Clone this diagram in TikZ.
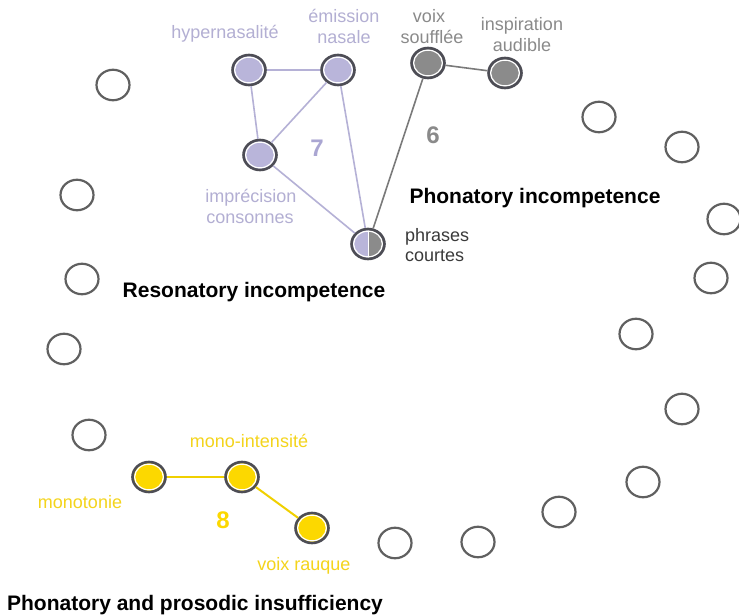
\documentclass[tikz,border=0pt]{standalone}
\usepackage{fontspec}
\setmainfont{Liberation Sans}
\usetikzlibrary{shapes.geometric}

\definecolor{ringc}{HTML}{4D4D55}
\definecolor{emptyc}{HTML}{606060}
\definecolor{lavfill}{HTML}{B9B5DA}
\definecolor{lavtext}{HTML}{B3AFD3}
\definecolor{lavline}{HTML}{B5B1D6}
\definecolor{lavnum}{HTML}{AAA6D2}
\definecolor{greyfill}{HTML}{8B8B8B}
\definecolor{greytext}{HTML}{8A8A8A}
\definecolor{greyline}{HTML}{7A7A7A}
\definecolor{yelfill}{HTML}{FCD800}
\definecolor{yeltext}{HTML}{F4D41C}
\definecolor{yelline}{HTML}{F0D000}
\definecolor{darktext}{HTML}{3A3A3A}

\tikzset{
  symptom/.style={ellipse, minimum width=33pt, minimum height=30pt, inner sep=0pt,
    fill=#1, draw=ringc, line width=2.6pt,
    path picture={\draw[white, line width=1.3pt] (path picture bounding box.center)
      ellipse [x radius=14.4pt, y radius=12.9pt];}},
  splitnode/.style={ellipse, minimum width=33pt, minimum height=30pt, inner sep=0pt,
    draw=ringc, line width=2.6pt,
    path picture={
      \fill[lavfill] (path picture bounding box.south west) rectangle (path picture bounding box.north);
      \fill[greyfill] (path picture bounding box.south) rectangle (path picture bounding box.north east);
      \draw[white, line width=0.8pt] (path picture bounding box.south) -- (path picture bounding box.north);
      \draw[white, line width=1.3pt] (path picture bounding box.center)
        ellipse [x radius=14.4pt, y radius=12.9pt];}},
  emptynode/.style={ellipse, minimum width=33pt, minimum height=30.5pt, inner sep=0pt,
    draw=emptyc, line width=2.2pt},
  lbl/.style={anchor=base, inner sep=0pt, font=\fontsize{18}{21}\selectfont},
  lblleft/.style={anchor=base west, inner sep=0pt, font=\fontsize{18}{21}\selectfont},
  groupnum/.style={anchor=base, inner sep=0pt, font=\fontsize{24}{28}\selectfont\bfseries},
  grouptitle/.style={anchor=base, inner sep=0pt, font=\fontsize{21}{25}\selectfont\bfseries, text=black},
  lavedge/.style={draw=lavline, line width=1.6pt},
  greyedge/.style={draw=greyline, line width=1.6pt},
  yeledge/.style={draw=yelline, line width=2pt}
}

\begin{document}
\begin{tikzpicture}[x=1pt, y=-1pt]
\useasboundingbox[fill=white] (0,0) rectangle (739,615);

% resonatory group
\node[symptom=lavfill] (hyp) at (249,70) {};
\node[symptom=lavfill] (emi) at (338,70) {};
\node[symptom=lavfill] (imp) at (260,155) {};
% shared node
\node[splitnode] (pc) at (368,244) {};
% phonatory group
\node[symptom=greyfill] (vs) at (428,63) {};
\node[symptom=greyfill] (ia) at (505,73) {};
% prosodic group
\node[symptom=yelfill] (mt) at (149,477) {};
\node[symptom=yelfill] (mi) at (242,477) {};
\node[symptom=yelfill] (vr) at (312,528) {};

% connectors
\draw[lavedge] (hyp) -- (emi);
\draw[lavedge] (hyp) -- (imp);
\draw[lavedge] (emi) -- (imp);
\draw[lavedge] (emi) -- (pc);
\draw[lavedge] (imp) -- (pc);
\draw[greyedge] (vs) -- (ia);
\draw[greyedge] (vs) -- (pc);
\draw[yeledge] (mt) -- (mi);
\draw[yeledge] (mi) -- (vr);

% empty positions around the ring
\node[emptynode] (e1) at (113,85) {};
\node[emptynode] (e2) at (77,195) {};
\node[emptynode] (e3) at (82,279) {};
\node[emptynode] (e4) at (64,349) {};
\node[emptynode] (e5) at (89,435) {};
\node[emptynode] (e6) at (599,117) {};
\node[emptynode] (e7) at (682,147) {};
\node[emptynode] (e8) at (724,219) {};
\node[emptynode] (e9) at (711,278) {};
\node[emptynode] (e10) at (636,334) {};
\node[emptynode] (e11) at (682,409) {};
\node[emptynode] (e12) at (643,482) {};
\node[emptynode] (e13) at (559,512) {};
\node[emptynode] (e14) at (478,542) {};
\node[emptynode] (e15) at (395,543) {};

% symptom labels
\node[lbl, text=lavtext] (lhyp) at (225,39) {hypernasalité};
\node[lbl, text=lavtext] (lemi1) at (344,23) {émission};
\node[lbl, text=lavtext] (lemi2) at (344,44) {nasale};
\node[lbl, text=lavtext] (limp1) at (251,202) {imprécision};
\node[lbl, text=lavtext] (limp2) at (250,223) {consonnes};
\node[lbl, text=greytext] (lvs1) at (429,23) {voix};
\node[lbl, text=greytext] (lvs2) at (432,44) {soufflée};
\node[lbl, text=greytext] (lia1) at (522,31) {inspiration};
\node[lbl, text=greytext] (lia2) at (522,52) {audible};
\node[lblleft, text=darktext] (lpc1) at (405,241) {phrases};
\node[lblleft, text=darktext] (lpc2) at (405,261) {courtes};
\node[lbl, text=yeltext] (lmt) at (80,508) {monotonie};
\node[lbl, text=yeltext] (lmi) at (249,447) {mono-intensité};
\node[lbl, text=yeltext] (lvr) at (304,570) {voix rauque};

% group numbers
\node[groupnum, text=lavnum] (n7) at (317,157) {7};
\node[groupnum, text=greytext] (n6) at (433,143) {6};
\node[groupnum, text=yelfill] (n8) at (223,528) {8};

% group titles
\node[grouptitle] (tphon) at (535,203) {Phonatory incompetence};
\node[grouptitle] (treso) at (254,297) {Resonatory incompetence};
\node[grouptitle] (tpros) at (195,610) {Phonatory and prosodic insufficiency};
\end{tikzpicture}
\end{document}
